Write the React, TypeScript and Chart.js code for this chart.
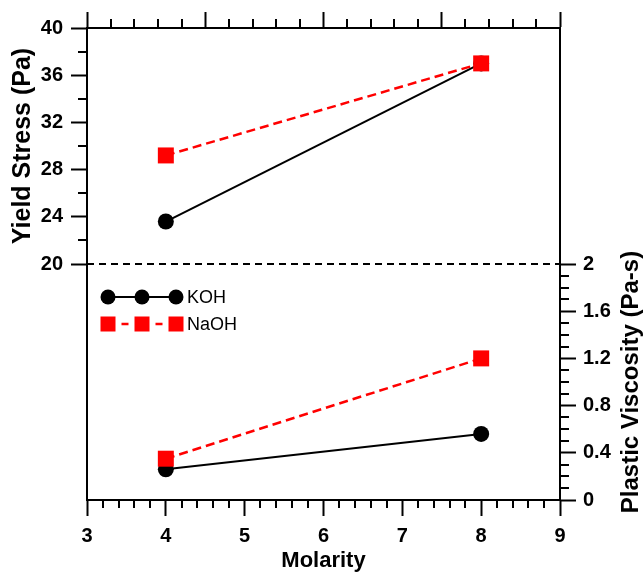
import React, { useEffect, useRef } from 'react';
import { Chart, registerables } from 'chart.js';

Chart.register(...registerables);

// ---- data ----
const molarity = [4, 8];
const kohYield = [23.6, 37.0];
const naohYield = [29.2, 37.0];
const kohViscosity = [0.26, 0.56];
const naohViscosity = [0.35, 1.2];
const dividerX = [3, 9];
const dividerY = [20, 20];
const seriesNames = ['KOH', 'NaOH'];
const xTitle = 'Molarity';
const yTitle = 'Yield Stress (Pa)';
const y1Title = 'Plastic Viscosity (Pa-s)';

const FONT = '"Liberation Sans", Arial, Helvetica, sans-serif';
const RED = '#ff0000';

const pts = (xs: number[], ys: number[]) => xs.map((v, i) => ({ x: v, y: ys[i] }));

const decorPlugin = {
  id: 'decor',
  afterDraw(chart: any) {
    const ctx = chart.ctx as CanvasRenderingContext2D;
    const { x, xTop, y, y1 } = chart.scales;
    const ca = chart.chartArea;
    ctx.save();
    ctx.strokeStyle = '#000';
    ctx.lineWidth = 2;
    const minor = 9;
    ctx.beginPath();
    // bottom minor ticks
    for (let i = 0; i <= 30; i++) {
      if (i % 5 === 0) continue;
      const px = Math.round(x.getPixelForValue(3 + i * 0.2));
      ctx.moveTo(px, ca.bottom);
      ctx.lineTo(px, ca.bottom + 8);
    }
    // top minor ticks
    for (let i = 0; i <= 20; i++) {
      if (i % 5 === 0) continue;
      const px = Math.round(xTop.getPixelForValue(3 + i * 0.3));
      ctx.moveTo(px, ca.top);
      ctx.lineTo(px, ca.top - minor);
    }
    // left minor ticks
    for (let v = 22; v < 40; v += 4) {
      const py = Math.round(y.getPixelForValue(v));
      ctx.moveTo(ca.left, py);
      ctx.lineTo(ca.left - minor, py);
    }
    // right minor ticks
    for (let i = 0; i <= 20; i++) {
      if (i % 4 === 0) continue;
      const py = Math.round(y1.getPixelForValue(i * 0.1));
      ctx.moveTo(ca.right, py);
      ctx.lineTo(ca.right + minor, py);
    }
    ctx.stroke();

    // axis titles
    ctx.fillStyle = '#000';
    ctx.textAlign = 'center';
    ctx.textBaseline = 'middle';
    ctx.font = `bold 22px ${FONT}`;
    ctx.fillText(xTitle, (ca.left + ca.right) / 2, 561);

    ctx.save();
    ctx.font = `bold 25px ${FONT}`;
    ctx.translate(23, (ca.top + y.getPixelForValue(20)) / 2);
    ctx.rotate(-Math.PI / 2);
    ctx.fillText(yTitle, 0, 0);
    ctx.restore();

    ctx.save();
    ctx.font = `bold 24px ${FONT}`;
    ctx.translate(631, (y1.getPixelForValue(2) + ca.bottom) / 2);
    ctx.rotate(-Math.PI / 2);
    ctx.fillText(y1Title, 0, 0);
    ctx.restore();

    // legend
    const lx = [108, 142, 176];
    const ly = [297, 324];
    ctx.strokeStyle = '#000';
    ctx.lineWidth = 2;
    ctx.beginPath();
    ctx.moveTo(lx[0], ly[0]);
    ctx.lineTo(lx[2], ly[0]);
    ctx.stroke();
    ctx.fillStyle = '#000';
    for (const cx of lx) {
      ctx.beginPath();
      ctx.arc(cx, ly[0], 7.5, 0, Math.PI * 2);
      ctx.fill();
    }
    ctx.strokeStyle = RED;
    ctx.lineWidth = 2.5;
    ctx.beginPath();
    for (let k = 0; k < 2; k++) {
      const mid = (lx[k] + lx[k + 1]) / 2;
      ctx.moveTo(mid - 3.5, ly[1]);
      ctx.lineTo(mid + 3.5, ly[1]);
    }
    ctx.stroke();
    ctx.fillStyle = RED;
    for (const cx of lx) {
      ctx.fillRect(cx - 7.5, ly[1] - 7.5, 15, 15);
    }
    ctx.fillStyle = '#000';
    ctx.font = `18px ${FONT}`;
    ctx.textAlign = 'left';
    ctx.fillText(seriesNames[0], 187, ly[0] + 1);
    ctx.fillText(seriesNames[1], 187, ly[1] + 1);
    ctx.restore();
  },
};

export default function App() {
  const ref = useRef<HTMLCanvasElement | null>(null);

  useEffect(() => {
    if (!ref.current) return;
    const tickFont = { family: FONT, size: 20, weight: 'bold' as const };
    const chart = new Chart(ref.current, {
      type: 'line',
      data: {
        datasets: [
          {
            label: seriesNames[1] + ' yield',
            data: pts(molarity, naohYield),
            yAxisID: 'y',
            borderColor: RED,
            borderWidth: 2.5,
            borderDash: [9, 5],
            pointStyle: 'rect',
            pointRadius: 11.3,
            pointBackgroundColor: RED,
            pointBorderWidth: 0,
          },
          {
            label: seriesNames[1] + ' viscosity',
            data: pts(molarity, naohViscosity),
            yAxisID: 'y1',
            borderColor: RED,
            borderWidth: 2.5,
            borderDash: [9, 5],
            pointStyle: 'rect',
            pointRadius: 11.3,
            pointBackgroundColor: RED,
            pointBorderWidth: 0,
          },
          {
            label: seriesNames[0] + ' yield',
            data: pts(molarity, kohYield),
            yAxisID: 'y',
            borderColor: '#000',
            borderWidth: 2,
            pointStyle: 'circle',
            pointRadius: 8,
            pointBackgroundColor: '#000',
            pointBorderWidth: 0,
          },
          {
            label: seriesNames[0] + ' viscosity',
            data: pts(molarity, kohViscosity),
            yAxisID: 'y1',
            borderColor: '#000',
            borderWidth: 2,
            pointStyle: 'circle',
            pointRadius: 8,
            pointBackgroundColor: '#000',
            pointBorderWidth: 0,
          },
          {
            label: 'divider',
            data: pts(dividerX, dividerY),
            yAxisID: 'y',
            borderColor: '#000',
            borderWidth: 2,
            borderDash: [7, 5],
            pointRadius: 0,
          },
        ],
      },
      options: {
        responsive: false,
        animation: false,
        events: [],
        layout: { padding: 0 },
        plugins: { legend: { display: false }, tooltip: { enabled: false } },
        scales: {
          x: {
            type: 'linear',
            position: 'bottom',
            min: 3,
            max: 9,
            afterFit: (s: any) => { s.height = 76; },
            ticks: { stepSize: 1, font: tickFont, color: '#000', padding: 8, autoSkip: false, maxRotation: 0 },
            grid: { drawOnChartArea: false, tickLength: 16, tickWidth: 2, tickColor: '#000' },
            border: { display: true, width: 2, color: '#000' },
          },
          xTop: {
            type: 'linear',
            position: 'top',
            min: 3,
            max: 9,
            afterFit: (s: any) => { s.height = 28; },
            ticks: { stepSize: 1.5, display: false },
            grid: { drawOnChartArea: false, tickLength: 16, tickWidth: 2, tickColor: '#000' },
            border: { display: true, width: 2, color: '#000' },
          },
          y: {
            type: 'linear',
            position: 'left',
            min: 0,
            max: 40,
            afterFit: (s: any) => { s.width = 87; },
            ticks: {
              stepSize: 4,
              autoSkip: false,
              font: tickFont,
              color: '#000',
              padding: 8,
              callback: (v: any) => (Number(v) >= 20 ? String(v) : ''),
            },
            grid: {
              drawOnChartArea: false,
              tickLength: 16,
              tickWidth: 2,
              tickColor: (c: any) => (c.tick && c.tick.value >= 20 ? '#000' : 'rgba(0,0,0,0)'),
            },
            border: { display: true, width: 2, color: '#000' },
          },
          y1: {
            type: 'linear',
            position: 'right',
            min: 0,
            max: 4,
            afterFit: (s: any) => { s.width = 83; },
            ticks: {
              stepSize: 0.4,
              autoSkip: false,
              font: tickFont,
              color: '#000',
              padding: 7,
              callback: (v: any) => (Number(v) <= 2.001 ? String(Number(Number(v).toFixed(1))) : ''),
            },
            grid: {
              drawOnChartArea: false,
              tickLength: 16,
              tickWidth: 2,
              tickColor: (c: any) => (c.tick && c.tick.value <= 2.001 ? '#000' : 'rgba(0,0,0,0)'),
            },
            border: { display: true, width: 2, color: '#000' },
          },
        },
      },
      plugins: [decorPlugin],
    } as any);
    return () => chart.destroy();
  }, []);

  return (
    <div style={{ position: 'absolute', left: 0, top: 0, width: 643, height: 576, background: '#fff' }}>
      <canvas ref={ref} width={643} height={576} style={{ display: 'block' }} />
    </div>
  );
}
